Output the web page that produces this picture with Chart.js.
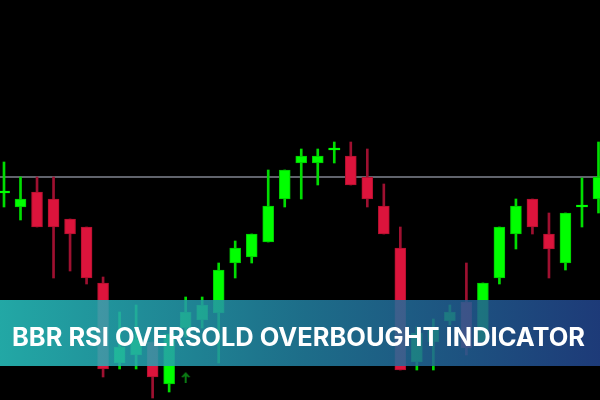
<!DOCTYPE html>
<html>
<head>
<meta charset="utf-8">
<script src="https://cdn.jsdelivr.net/npm/chart.js@4.4.0/dist/chart.umd.min.js"></script>
<style>
  html, body { margin: 0; padding: 0; background: #000; }
  #wrap { position: relative; width: 600px; height: 400px; overflow: hidden; background: #000; }
  #c { position: absolute; left: 0; top: 0; }
  #banner {
    position: absolute; left: 0; top: 300px; width: 600px; height: 66px;
    background: linear-gradient(90deg, rgba(40,195,192,0.86) 0%, rgba(34,128,160,0.86) 50%, rgba(34,68,140,0.86) 100%);
  }
  #title {
    position: absolute; left: 0; top: 322px; white-space: nowrap;
    font-family: Inter, "Open Sans", sans-serif; font-weight: 700; font-size: 25px;
    line-height: 30px; color: #fff; transform-origin: 0 0;
  }
</style>
</head>
<body>
<div id="wrap">
  <canvas id="c" width="600" height="400"></canvas>
  <div id="banner"></div>
  <div id="title">BBR RSI OVERSOLD OVERBOUGHT INDICATOR</div>
</div>
<script>
// ---- data (price units) ----
const opens  = [208,193,208,201,181,173,117, 37, 45, 58, 16, 72, 80, 87,137,143,158,201,237,237,251,244,223,194,152, 38, 58, 79, 98, 58,122,166,201,166,137,194,201];
const highs  = [238,223,223,223,181,173,123, 88, 95, 58, 66,103,103,137,159,166,230,230,251,251,258,258,251,216,173, 73, 81, 95,137,117,173,201,201,187,187,222,258];
const lows   = [193,180,173,122,129,116, 23, 31, 31,  2,  8, 63, 72, 37,122,137,158,193,201,215,237,215,193,166, 30, 30, 30, 75, 45, 55,116,151,166,122,130,173,187];
const closes = [208,201,173,173,166,122, 31, 53, 61, 23, 66, 88, 95,130,152,166,194,230,244,244,251,215,201,166, 30, 67, 73, 88, 52,117,173,194,173,151,187,194,223];
const levelValue = 223;
const arrowIdx = [11];
const arrowVal = [22.5];

const N = opens.length;
const idx = opens.map((_, i) => i);
const isUp = idx.map(i => closes[i] >= opens[i]);

const GREEN = '#00ff00', GREEN_EDGE = '#00c800', GREEN_WICK = '#00dd00';
const RED = '#dc143c', RED_EDGE = '#b0102e', RED_WICK = '#9e1030';

const bodies = idx.map(i => {
  const o = opens[i], c = closes[i];
  if (o === c) return { x: i, y: [o - 0.75, o + 0.75] };
  return { x: i, y: [Math.min(o, c), Math.max(o, c)] };
});
const wicks = idx.map(i => ({ x: i, y: [lows[i], highs[i]] }));

// arrow point style
const arrowImg = document.createElement('canvas');
arrowImg.width = 10; arrowImg.height = 11;
(function () {
  const g = arrowImg.getContext('2d');
  g.strokeStyle = '#0b7a14'; g.fillStyle = '#0b7a14'; g.lineWidth = 2;
  g.beginPath(); g.moveTo(5, 3); g.lineTo(5, 11); g.stroke();
  g.beginPath(); g.moveTo(5, 0); g.lineTo(9.5, 5); g.lineTo(7.5, 5.5); g.lineTo(5, 3); g.lineTo(2.5, 5.5); g.lineTo(0.5, 5); g.closePath(); g.fill();
})();

const xMin = -0.2422, xMax = 36.091;

new Chart(document.getElementById('c'), {
  type: 'bar',
  data: {
    datasets: [
      {
        type: 'line', order: 5,
        data: [{ x: xMin, y: levelValue }, { x: xMax, y: levelValue }],
        borderColor: '#808591', borderWidth: 1.5, pointRadius: 0
      },
      {
        type: 'bar', order: 4, grouped: false,
        data: wicks, barThickness: 2,
        backgroundColor: idx.map(i => isUp[i] ? GREEN_WICK : RED_WICK),
        borderWidth: 0
      },
      {
        type: 'bar', order: 3, grouped: false,
        data: bodies, barThickness: 11,
        backgroundColor: idx.map(i => isUp[i] ? GREEN : RED),
        borderColor: idx.map(i => isUp[i] ? GREEN_EDGE : RED_EDGE),
        borderWidth: idx.map(i => opens[i] === closes[i] ? 0 : 1),
        borderSkipped: false
      },
      {
        type: 'scatter', order: 2,
        data: arrowIdx.map((x, k) => ({ x: x, y: arrowVal[k] })),
        pointStyle: arrowImg, pointRadius: 5
      }
    ]
  },
  options: {
    responsive: false, animation: false,
    layout: { padding: 0, autoPadding: false },
    plugins: { legend: { display: false }, tooltip: { enabled: false } },
    scales: {
      x: { type: 'linear', min: xMin, max: xMax, offset: false, display: false },
      y: { type: 'linear', min: 0, max: 400, display: false }
    }
  }
});

// fit title width to the banner text extent
const t = document.getElementById('title');
const w = t.getBoundingClientRect().width;
const target = 573;
t.style.left = '12px';
t.style.transform = 'scaleX(' + (target / w) + ')';
</script>
</body>
</html>
